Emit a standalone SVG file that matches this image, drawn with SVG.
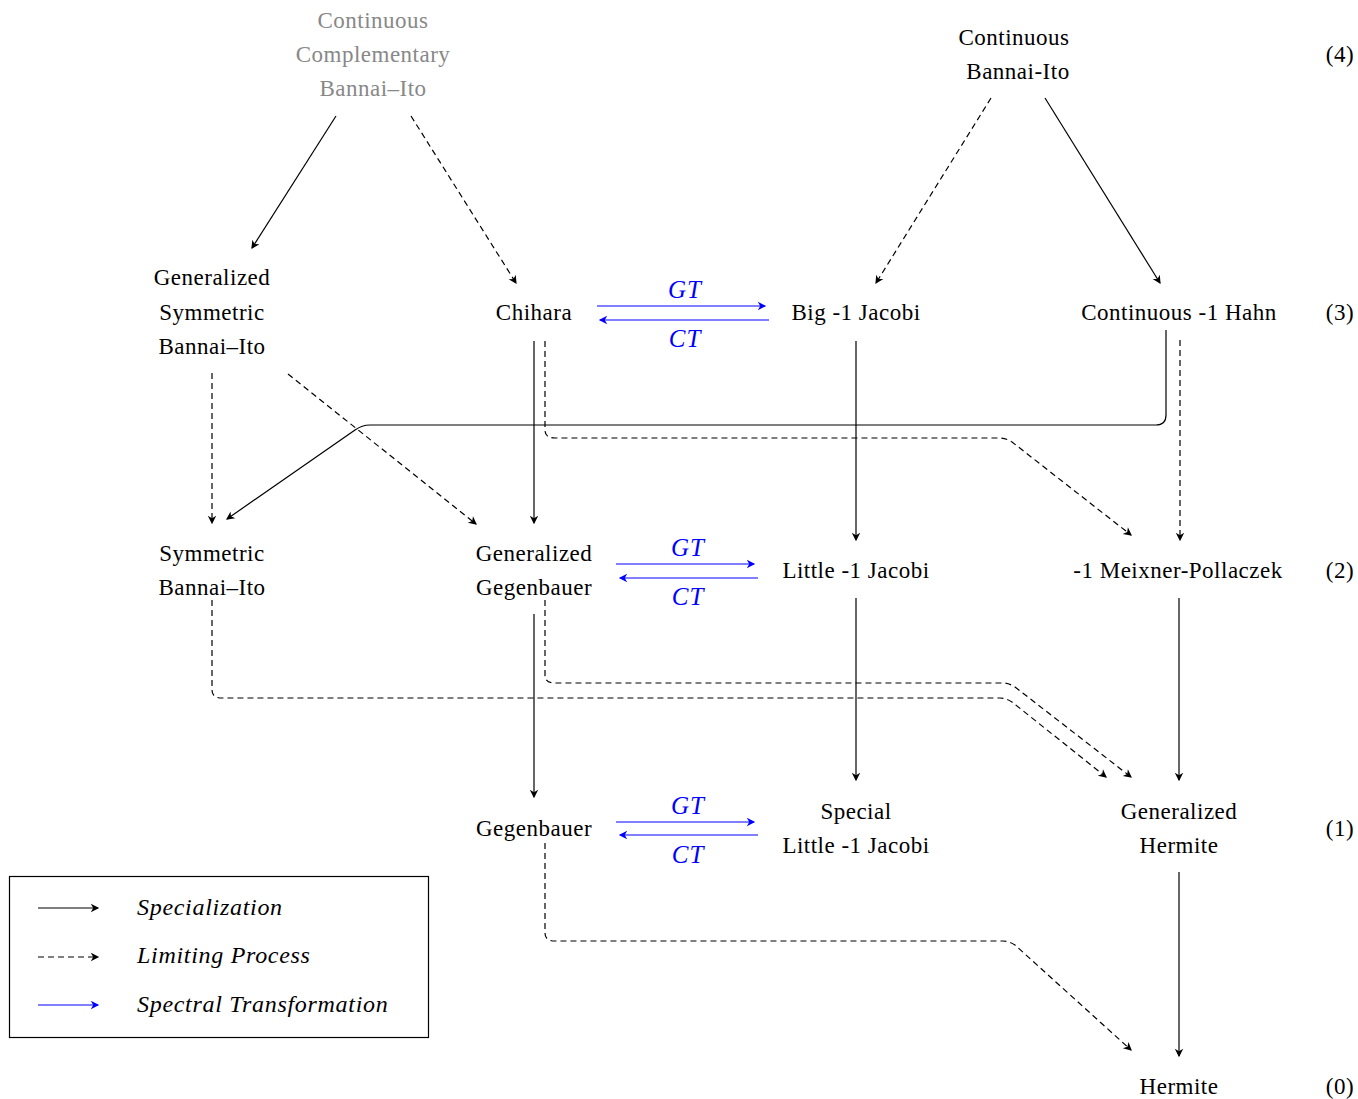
<svg xmlns="http://www.w3.org/2000/svg" width="1358" height="1099" viewBox="0 0 1358 1099">
<style>
text{font-family:"Liberation Serif","DejaVu Serif",serif;font-size:23px;letter-spacing:0.5px;fill:#000;text-anchor:middle}
.gray{fill:#888}
.it{font-style:italic}
.blue{fill:#0000ff;font-size:25px;letter-spacing:1px}
.lg{text-anchor:start;font-style:italic;font-size:24px;letter-spacing:0.7px}
.s{fill:none;stroke:#000;stroke-width:1.2;marker-end:url(#ah)}
.d{fill:none;stroke:#000;stroke-width:1.2;stroke-dasharray:6 4;marker-end:url(#ah)}
.b{fill:none;stroke:#0000ff;stroke-width:1.2;marker-end:url(#ahb)}
</style>
<defs>
<marker id="ah" markerUnits="userSpaceOnUse" markerWidth="12" markerHeight="12" viewBox="-8 -5 10 10" refX="0" refY="0" orient="auto" overflow="visible">
<path d="M1,0 L-6,-3.5 L-4,0 L-6,3.5 Z" fill="#000"/>
</marker>
<marker id="ahb" markerUnits="userSpaceOnUse" markerWidth="12" markerHeight="12" viewBox="-8 -5 10 10" refX="0" refY="0" orient="auto" overflow="visible">
<path d="M1,0 L-6,-3.5 L-4,0 L-6,3.5 Z" fill="#0000ff"/>
</marker>
</defs>
<rect width="1358" height="1099" fill="#fff"/>

<g id="connectors">
<path class="s" d="M336,116 L252,248"/>
<path class="d" d="M411,116 L516,283"/>
<path class="d" d="M991,98 L876,283"/>
<path class="s" d="M1045,98 L1160,283"/>
<path class="b" d="M597,306 L765,306"/>
<path class="b" d="M769,320 L600,320"/>
<path class="d" d="M212,373 L212,523"/>
<path class="d" d="M288,374 L476,524"/>
<path class="s" d="M534,341 L534,523"/>
<path class="d" d="M545,341 L545,430 Q545,438 555,438 L1000,438 Q1006,438 1012,442 L1131,535"/>
<path class="s" d="M856,341 L856,540"/>
<path class="s" d="M1166,330 L1166,415 Q1166,425 1156,425 L370,425 Q362,425 355,430 L227,519"/>
<path class="d" d="M1180,340 L1180,540"/>
<path class="b" d="M616,564 L754,564"/>
<path class="b" d="M758,578 L620,578"/>
<path class="s" d="M534,614 L534,797"/>
<path class="d" d="M545,600 L545,675 Q545,683 555,683 L1003,683 Q1009,683 1015,687 L1131,777"/>
<path class="d" d="M212,600 L212,690 Q212,698 222,698 L1000,698 Q1006,698 1012,702 L1106,777"/>
<path class="s" d="M856,598 L856,780"/>
<path class="s" d="M1179,598 L1179,780"/>
<path class="b" d="M616,822 L754,822"/>
<path class="b" d="M758,835 L620,835"/>
<path class="d" d="M545,843 L545,933 Q545,941 555,941 L1003,941 Q1009,941 1015,945 L1131,1050"/>
<path class="s" d="M1179,872 L1179,1056"/>
</g>

<g id="edge-labels">
<text class="it blue" x="685" y="298">GT</text>
<text class="it blue" x="685" y="347">CT</text>
<text class="it blue" x="688" y="556">GT</text>
<text class="it blue" x="688" y="605">CT</text>
<text class="it blue" x="688" y="814">GT</text>
<text class="it blue" x="688" y="863">CT</text>
</g>

<g id="n-ccbi">
<text class="gray" x="373" y="28">Continuous</text>
<text class="gray" x="373" y="62">Complementary</text>
<text class="gray" x="373" y="96">Bannai–Ito</text>
</g>
<g id="n-cbi">
<text x="1014" y="45">Continuous</text>
<text x="1018" y="79">Bannai-Ito</text>
</g>
<g id="n-gsbi">
<text x="212" y="285">Generalized</text>
<text x="212" y="320">Symmetric</text>
<text x="212" y="354">Bannai–Ito</text>
</g>
<g id="n-chihara"><text x="534" y="320">Chihara</text></g>
<g id="n-bigj"><text x="856" y="320">Big -1 Jacobi</text></g>
<g id="n-chahn"><text x="1179" y="320">Continuous -1 Hahn</text></g>
<g id="n-sbi">
<text x="212" y="561">Symmetric</text>
<text x="212" y="595">Bannai–Ito</text>
</g>
<g id="n-ggeg">
<text x="534" y="561">Generalized</text>
<text x="534" y="595">Gegenbauer</text>
</g>
<g id="n-littlej"><text x="856" y="578">Little -1 Jacobi</text></g>
<g id="n-meixner"><text x="1178" y="578">-1 Meixner-Pollaczek</text></g>
<g id="n-geg"><text x="534" y="836">Gegenbauer</text></g>
<g id="n-slj">
<text x="856" y="819">Special</text>
<text x="856" y="853">Little -1 Jacobi</text>
</g>
<g id="n-gherm">
<text x="1179" y="819">Generalized</text>
<text x="1179" y="853">Hermite</text>
</g>
<g id="n-herm"><text x="1179" y="1094">Hermite</text></g>

<g id="levels">
<text x="1340" y="62">(4)</text>
<text x="1340" y="320">(3)</text>
<text x="1340" y="578">(2)</text>
<text x="1340" y="836">(1)</text>
<text x="1340" y="1094">(0)</text>
</g>

<g id="legend">
<rect x="9.5" y="876.5" width="419" height="161" fill="none" stroke="#000" stroke-width="1.2"/>
<path class="s" d="M38,908 L98,908"/>
<path class="d" d="M38,957 L98,957"/>
<path class="b" d="M38,1005 L98,1005"/>
<text class="lg" x="137" y="915">Specialization</text>
<text class="lg" x="137" y="963">Limiting Process</text>
<text class="lg" x="137" y="1012">Spectral Transformation</text>
</g>
</svg>
